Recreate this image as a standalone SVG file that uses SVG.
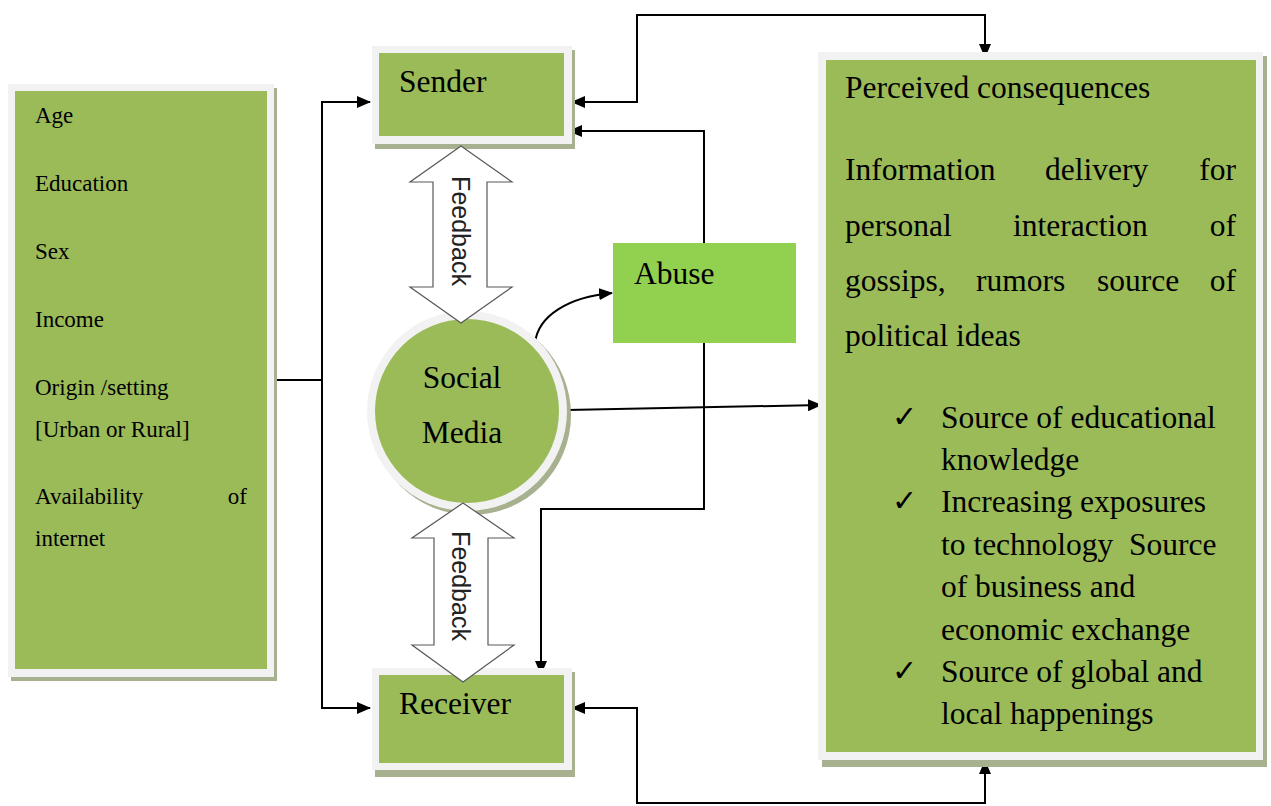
<svg xmlns="http://www.w3.org/2000/svg" width="1271" height="806" viewBox="0 0 1271 806">
<defs>
<marker id="ah" viewBox="0 0 14 12" refX="13" refY="6" markerWidth="14" markerHeight="12" markerUnits="userSpaceOnUse" orient="auto-start-reverse">
<path d="M0,0 L14,6 L0,12 Z" fill="#000"/>
</marker>
</defs>
<style>
.shadow{fill:#a7b08f}
.frame{fill:#f2f2f2}
.green{fill:#9bbb59}
.abuse{fill:#92d050}
.t{font-family:"Liberation Serif","Times New Roman",serif;fill:#000}
.sm{font-size:23px}
.lg{font-size:31.5px}
.ck{font-family:"DejaVu Sans",sans-serif;font-size:30px;fill:#000}
.fb{font-family:"Liberation Sans",Arial,sans-serif;font-size:25px;fill:#222}
.conn{fill:none;stroke:#000;stroke-width:2}
.fbarrow{fill:#fff;stroke:#595959;stroke-width:1.2}
</style>

<g id="connectors">
<polyline class="conn" points="275,380 322,380"/>
<polyline class="conn" points="322,380 322,102 370,102" marker-end="url(#ah)"/>
<polyline class="conn" points="322,380 322,708 370,708" marker-end="url(#ah)"/>
<polyline class="conn" points="572,102 637,102 637,15 985,15 985,57" marker-start="url(#ah)" marker-end="url(#ah)"/>
<polyline class="conn" points="569,131 704,131 704,509 541,509 541,674" marker-start="url(#ah)" marker-end="url(#ah)"/>
<polyline class="conn" points="572,708 637,708 637,803 985,803 985,761" marker-start="url(#ah)" marker-end="url(#ah)"/>
<line class="conn" x1="567" y1="410" x2="821" y2="405" marker-end="url(#ah)"/>
<path class="conn" d="M535,343 C538,316 568,297 612,293" marker-end="url(#ah)"/>
</g>

<g id="left-box">
<rect class="shadow" x="11" y="88" width="266" height="593"/>
<rect class="frame" x="8" y="84" width="266" height="593"/>
<rect class="green" x="15" y="91" width="252" height="578"/>
<text class="t sm" x="35" y="123">Age</text>
<text class="t sm" x="35" y="191">Education</text>
<text class="t sm" x="35" y="259">Sex</text>
<text class="t sm" x="35" y="327">Income</text>
<text class="t sm" x="35" y="395">Origin /setting</text>
<text class="t sm" x="35" y="437">[Urban or Rural]</text>
<text class="t sm" x="35" y="504">Availability</text>
<text class="t sm" x="247" y="504" text-anchor="end">of</text>
<text class="t sm" x="35" y="546">internet</text>
</g>

<g id="sender">
<rect class="shadow" x="375" y="50" width="200" height="99"/>
<rect class="frame" x="372" y="46" width="200" height="98"/>
<rect class="green" x="379" y="53" width="185" height="83"/>
<text class="t lg" x="399" y="92">Sender</text>
</g>

<g id="receiver">
<rect class="shadow" x="375" y="672" width="200" height="105"/>
<rect class="frame" x="372" y="668" width="200" height="102"/>
<rect class="green" x="379" y="675" width="185" height="88"/>
<text class="t lg" x="399" y="714">Receiver</text>
</g>

<g id="abuse">
<rect class="abuse" x="613" y="243" width="183" height="100"/>
<text class="t lg" x="634" y="284">Abuse</text>
</g>

<g id="social-media">
<circle class="shadow" cx="471" cy="415" r="100"/>
<circle class="frame" cx="467" cy="411" r="100"/>
<circle class="green" cx="467" cy="411" r="92"/>
<text class="t lg" x="462" y="388" text-anchor="middle">Social</text>
<text class="t lg" x="462" y="443" text-anchor="middle">Media</text>
</g>

<g id="feedback-top">
<path class="fbarrow" d="M461,146 L512,182 L487,182 L487,287 L512,287 L461,323 L410,287 L433,287 L433,182 L410,182 Z"/>
<text class="fb" transform="translate(461,231) rotate(90)" x="0" y="9" text-anchor="middle">Feedback</text>
</g>

<g id="feedback-bottom">
<path class="fbarrow" d="M463,503 L514,538 L488,538 L488,645 L514,645 L463,682 L412,645 L434,645 L434,538 L412,538 Z"/>
<text class="fb" transform="translate(461,586) rotate(90)" x="0" y="9" text-anchor="middle">Feedback</text>
</g>

<g id="perceived-consequences">
<rect class="shadow" x="822" y="56" width="445" height="711"/>
<rect class="frame" x="818" y="52" width="445" height="708"/>
<rect class="green" x="826" y="60" width="430" height="692"/>
<text class="t lg" x="845" y="98">Perceived consequences</text>
<text class="t lg" x="845" y="180">Information</text>
<text class="t lg" x="1045" y="180">delivery</text>
<text class="t lg" x="1236" y="180" text-anchor="end">for</text>
<text class="t lg" x="845" y="236">personal</text>
<text class="t lg" x="1013" y="236">interaction</text>
<text class="t lg" x="1236" y="236" text-anchor="end">of</text>
<text class="t lg" x="845" y="291">gossips,</text>
<text class="t lg" x="976" y="291">rumors</text>
<text class="t lg" x="1097" y="291">source</text>
<text class="t lg" x="1236" y="291" text-anchor="end">of</text>
<text class="t lg" x="845" y="346">political ideas</text>
<text class="ck" x="892" y="427">✓</text>
<text class="t lg" x="941" y="428">Source of educational</text>
<text class="t lg" x="941" y="470">knowledge</text>
<text class="ck" x="892" y="511">✓</text>
<text class="t lg" x="941" y="512">Increasing exposures</text>
<text class="t lg" x="941" y="555" xml:space="preserve">to technology  Source</text>
<text class="t lg" x="941" y="597">of business and</text>
<text class="t lg" x="941" y="640">economic exchange</text>
<text class="ck" x="892" y="681">✓</text>
<text class="t lg" x="941" y="682">Source of global and</text>
<text class="t lg" x="941" y="724">local happenings</text>
</g>
</svg>
